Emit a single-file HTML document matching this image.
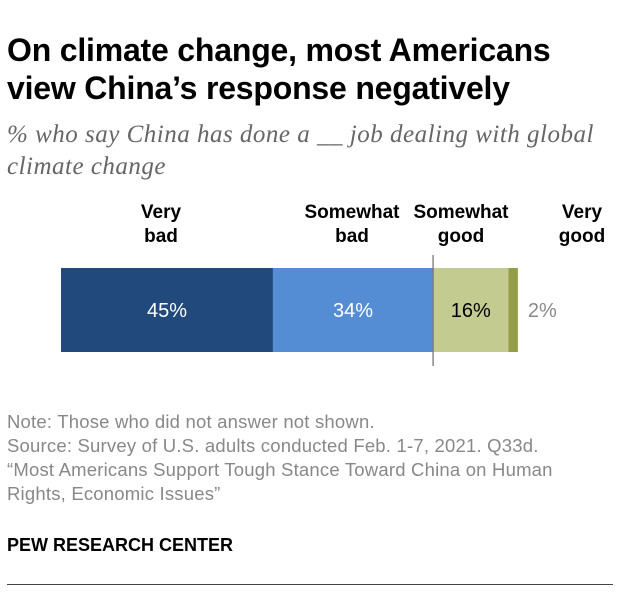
<!DOCTYPE html>
<html><head><meta charset="utf-8"><style>
body{margin:0;background:#fff;font-family:"Liberation Sans",sans-serif;}
#wrap{position:relative;width:620px;height:594px;overflow:hidden;}
.t{position:absolute;white-space:nowrap;}
</style></head><body>
<div id="wrap">
<div class="t" style="left:7px;top:31px;font-size:32px;font-weight:bold;line-height:38px;color:#000;letter-spacing:-0.2px">On climate change, most Americans<br>view China’s response negatively</div>
<div class="t" style="left:7px;top:119px;font-family:'Liberation Serif',serif;font-style:italic;font-size:25px;line-height:32px;color:#666;letter-spacing:0.5px">% who say China has done a __ job dealing with global<br>climate change</div>
<svg id="svg" width="620" height="594" style="position:absolute;left:0;top:0"></svg>
<div class="t" style="left:7px;top:410px;font-size:18.5px;line-height:24px;color:#888;letter-spacing:0.2px">Note: Those who did not answer not shown.<br>Source: Survey of U.S. adults conducted Feb. 1-7, 2021. Q33d.<br>“Most Americans Support Tough Stance Toward China on Human<br>Rights, Economic Issues”</div>
<div class="t" style="left:7px;top:535px;font-size:18px;font-weight:bold;color:#000">PEW RESEARCH CENTER</div>
<div style="position:absolute;left:7px;top:584px;width:606px;height:1px;background:#444"></div>
</div>
<script>
const categories=["Very bad","Somewhat bad","Somewhat good","Very good"];
const values=[45,34,16,2];
const colors=["#21497b","#548dd4","#c4cb91","#949e47"];
const labelColors=["#fff","#fff","#000","#888"];
const NS="http://www.w3.org/2000/svg";
const svg=document.getElementById('svg');
const x0=61,scale=4.71,y0=268,h=84;
function xs(v){return x0+v*scale;}
let acc=0;
const headerLines=[["Very","bad"],["Somewhat","bad"],["Somewhat","good"],["Very","good"]];
const headerX=[161,352,461,582];
values.forEach((v,i)=>{
  const r=document.createElementNS(NS,'rect');
  
  
  r.setAttribute('x',xs(acc));r.setAttribute('y',y0);
  r.setAttribute('width',v*scale);r.setAttribute('height',h);
  r.setAttribute('fill',colors[i]);svg.appendChild(r);
  const t=document.createElementNS(NS,'text');
  
  
  const cx=i==3?xs(acc+v)+10:xs(acc+v/2);
  t.setAttribute('x',cx);t.setAttribute('y',y0+h/2+7);
  t.setAttribute('text-anchor',i==3?'start':'middle');
  t.setAttribute('font-size','20');t.setAttribute('fill',labelColors[i]);
  t.setAttribute('font-family','Liberation Sans, sans-serif');
  t.textContent=v+'%';svg.appendChild(t);
  const hd=document.createElementNS(NS,'text');
  
  
  hd.setAttribute('text-anchor','middle');hd.setAttribute('font-size','19');
  hd.setAttribute('font-weight','bold');hd.setAttribute('font-family','Liberation Sans, sans-serif');
  headerLines[i].forEach((ln,j)=>{const ts=document.createElementNS(NS,'tspan');ts.setAttribute('x',headerX[i]);ts.setAttribute('y',218+j*24);ts.textContent=ln;hd.appendChild(ts);});
  svg.appendChild(hd);
  acc+=v;
});
const d=document.createElementNS(NS,'line');


const dx=xs(values[0]+values[1]);
d.setAttribute('x1',dx);d.setAttribute('x2',dx);d.setAttribute('y1',255);d.setAttribute('y2',366);
d.setAttribute('stroke','#777');d.setAttribute('stroke-width','1.3');svg.appendChild(d);
</script>
</body></html>
